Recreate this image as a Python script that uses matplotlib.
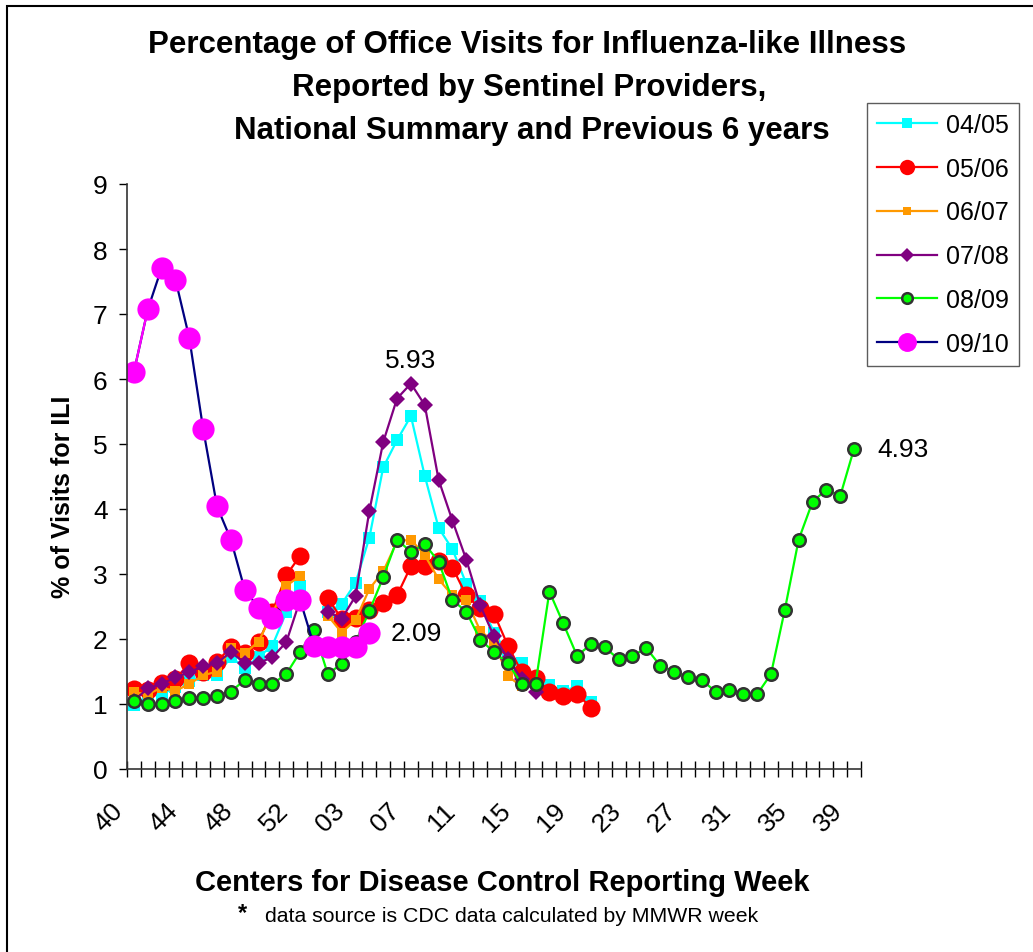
import matplotlib
matplotlib.use("Agg")
import matplotlib.pyplot as plt
import numpy as np
from matplotlib.patches import Rectangle
from matplotlib.transforms import ScaledTranslation

plt.rcParams['font.family'] = ['Liberation Sans', 'DejaVu Sans']

# MMWR weeks, season runs week 40 through week 39 (week 53 included)
weeks = [40, 41, 42, 43, 44, 45, 46, 47, 48, 49, 50, 51, 52, 53,
         1, 2, 3, 4, 5, 6, 7, 8, 9, 10, 11, 12, 13, 14, 15, 16, 17, 18, 19, 20,
         21, 22, 23, 24, 25, 26, 27, 28, 29, 30, 31, 32, 33, 34, 35, 36, 37, 38, 39]

ili_0405 = [0.98, 1.12, 1.15, 1.26, 1.35, 1.44, 1.44, 1.72, 1.56, 1.72, 1.90, 2.41, 2.82, None,
            2.41, 2.54, 2.86, 3.56, 4.64, 5.06, 5.43, 4.51, 3.71, 3.38, 2.85, 2.59, 2.10, 1.77,
            1.63, 1.38, 1.29, 1.20, 1.27, 1.03]
ili_0506 = [1.23, 1.21, 1.32, 1.38, 1.63, 1.50, 1.65, 1.88, 1.79, 1.96, 2.42, 2.98, 3.28, None,
            2.63, 2.31, 2.33, 2.45, 2.55, 2.67, 3.12, 3.12, 3.20, 3.10, 2.67, 2.47, 2.39, 1.90,
            1.49, 1.40, 1.19, 1.13, 1.16, 0.94]
ili_0607 = [1.18, 1.15, 1.25, 1.20, 1.31, 1.44, 1.50, 1.86, 1.78, 1.96, 2.40, 2.82, 2.97, None,
            2.36, 2.10, 2.29, 2.77, 3.04, 3.50, 3.53, 3.29, 2.92, 2.67, 2.60, 2.13, 1.95, 1.43,
            1.27]
ili_0708 = [1.05, 1.24, 1.31, 1.41, 1.49, 1.58, 1.63, 1.80, 1.63, 1.63, 1.72, 1.95, 2.60, None,
            2.42, 2.31, 2.66, 3.97, 5.03, 5.70, 5.93, 5.60, 4.45, 3.82, 3.22, 2.52, 2.04, 1.70,
            1.38, 1.19]
ili_0809 = [1.04, 1.00, 1.00, 1.04, 1.10, 1.10, 1.13, 1.19, 1.37, 1.31, 1.31, 1.46, 1.80, 2.14,
            1.46, 1.62, 1.95, 2.43, 2.95, 3.53, 3.34, 3.46, 3.19, 2.60, 2.42, 1.99, 1.80, 1.63,
            1.31, 1.31, 2.73, 2.24, 1.74, 1.92, 1.87, 1.69, 1.74, 1.86, 1.59, 1.50, 1.41, 1.37,
            1.19, 1.22, 1.15, 1.15, 1.46, 2.45, 3.53, 4.11, 4.30, 4.20, 4.93]
ili_0910 = [6.11, 7.07, 7.71, 7.53, 6.63, 5.23, 4.04, 3.53, 2.76, 2.48, 2.33, 2.60, 2.60,
            1.90, 1.88, 1.88, 1.88, 2.09]


def arr(vals):
    return np.array([np.nan if v is None else v for v in vals], dtype=float)


W, H = 1033, 953
fig = plt.figure(figsize=(W / 100, H / 100), dpi=100)
fig.patches.append(Rectangle((7 / W, -0.05), 1.1, 1 - 7 / H + 0.05, transform=fig.transFigure,
                             fill=False, edgecolor='black', linewidth=1.5))

ax = fig.add_axes([127 / W, 1 - 770 / H, (861 - 127) / W, (770 - 185) / H])

styles = [
    ('04/05', ili_0405, '#00FFFF', 's', 8.5, '#00FFFF', '#00FFFF', 0),
    ('05/06', ili_0506, '#FF0000', 'o', 13, '#FF0000', '#FF0000', 0),
    ('06/07', ili_0607, '#FF9900', 's', 7, '#FF9900', '#FF9900', 0),
    ('07/08', ili_0708, '#800080', 'D', 8, '#800080', '#800080', 0),
    ('08/09', ili_0809, '#00FF00', 'o', 9, '#00FF00', '#333333', 1.8),
    ('09/10', ili_0910, '#000080', 'o', 16, '#FF00FF', '#FF00FF', 0),
]
for label, vals, col, mk, ms, mfc, mec, mew in styles:
    y = arr(vals)
    ax.plot(np.arange(len(y)), y, color=col, lw=1.6, marker=mk, markersize=ms,
            markerfacecolor=mfc, markeredgecolor=mec, markeredgewidth=mew, label=label)

# first 09/10 segment is drawn magenta in the original
y10 = arr(ili_0910)
ax.plot(np.arange(2), y10[:2], color='#FF00FF', lw=1.6, zorder=3)

ax.set_xlim(-0.5, len(weeks) - 0.5)
ax.set_ylim(0, 9)
ax.set_yticks(range(0, 10))
ax.tick_params(axis='y', labelsize=19, direction='out', length=6, width=1, pad=8)

ax.set_xticks(np.arange(0, len(weeks), 4))
ax.set_xticklabels([f"{weeks[i]:02d}" for i in range(0, len(weeks), 4)],
                   rotation=45, ha='right', rotation_mode='anchor', fontsize=19)
ax.set_xticks(np.arange(-0.5, len(weeks)), minor=True)
ax.tick_params(axis='x', which='major', length=0, pad=21)
ax.tick_params(axis='x', which='minor', direction='inout', length=12, width=1)
for lab in ax.get_xticklabels():
    lab.set_transform(lab.get_transform() + ScaledTranslation(-17 / 72, 0, fig.dpi_scale_trans))

for s in ['top', 'right']:
    ax.spines[s].set_visible(False)
for s in ['left', 'bottom']:
    ax.spines[s].set_color('#333333')
    ax.spines[s].set_linewidth(1.2)

ax.set_ylabel('% of Visits for ILI', fontsize=18, fontweight='bold')
ax.yaxis.set_label_coords(-0.071, 0.467)

ax.annotate('5.93', (20, ili_0708[20]), xytext=(0, 17), textcoords='offset points',
            ha='center', va='center', fontsize=19)
ax.annotate('2.09', (17, ili_0910[17]), xytext=(34, 0), textcoords='offset points',
            ha='center', va='center', fontsize=19)
ax.annotate('4.93', (52, ili_0809[52]), xytext=(35, 0), textcoords='offset points',
            ha='center', va='center', fontsize=19)

fig.text(527 / W, 1 - 45 / H, 'Percentage of Office Visits for Influenza-like Illness',
         ha='center', va='center', fontsize=22.5, fontweight='bold')
fig.text(529 / W, 1 - 88 / H, 'Reported by Sentinel Providers,',
         ha='center', va='center', fontsize=22.5, fontweight='bold')
fig.text(532 / W, 1 - 131 / H, 'National Summary and Previous 6 years',
         ha='center', va='center', fontsize=22.5, fontweight='bold')

fig.text(502 / W, 1 - 883 / H, 'Centers for Disease Control Reporting Week',
         ha='center', va='center', fontsize=21, fontweight='bold')
fig.text(243 / W, 1 - 914 / H, '*', ha='center', va='center', fontsize=17, fontweight='bold')
fig.text(265 / W, 1 - 917 / H, 'data source is CDC data calculated by MMWR week',
         ha='left', va='center', fontsize=15.3)

ax.legend(loc='upper left', bbox_to_anchor=(867 / W, 1 - 104 / H), bbox_transform=fig.transFigure,
          fontsize=18, frameon=True, fancybox=False, shadow=False, edgecolor='#333333',
          handlelength=2.4, handletextpad=0.35, labelspacing=0.79, borderpad=0.4,
          borderaxespad=0, markerscale=0.85)

fig.savefig('out.png', dpi=100)
